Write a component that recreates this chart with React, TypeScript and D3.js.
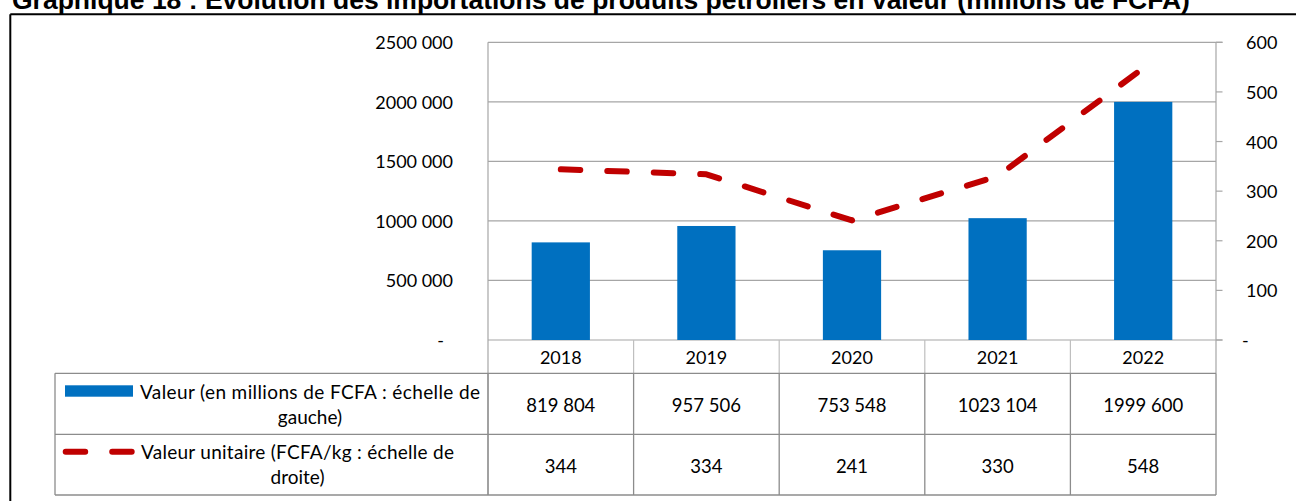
import React from "react";
import * as d3 from "d3";

const title =
  "Graphique 18 : Evolution des importations de produits pétroliers en valeur (millions de FCFA)";
const years = ["2018", "2019", "2020", "2021", "2022"];
const valeur = [819804, 957506, 753548, 1023104, 1999600];
const unitaire = [344, 334, 241, 330, 548];
const leftTicks = [0, 500000, 1000000, 1500000, 2000000, 2500000];
const rightTicks = [0, 100, 200, 300, 400, 500, 600];
const legendValeur = ["Valeur (en millions de FCFA : échelle de", "gauche)"];
const legendUnitaire = ["Valeur unitaire (FCFA/kg : échelle de", "droite)"];

const W = 1296;
const H = 501;
const plotL = 488;
const plotR = 1216;
const plotT = 42.3;
const plotB = 340;
const rowYear = 373.3;
const row1 = 434.3;
const row2 = 495;
const legendL = 55;

const BLUE = "#0070C0";
const RED = "#C00000";
const GRID = "#A6A6A6";
const TABLE = "#8C8C8C";
const FONT = "Lato, 'Open Sans', sans-serif";

function fmt(v: number): string {
  if (v === 0) return "-";
  if (v >= 1000) return `${Math.floor(v / 1000)} ${String(v % 1000).padStart(3, "0")}`;
  return String(v);
}

export default function App() {
  const x = d3.scaleBand<string>().domain(years).range([plotL, plotR]).padding(0);
  const bw = x.bandwidth();
  const yL = d3.scaleLinear().domain([0, 2500000]).range([plotB, plotT]);
  const yR = d3.scaleLinear().domain([0, 600]).range([plotB, plotT]);
  const cx = (y: string) => (x(y) as number) + bw / 2;
  const barW = bw * 0.4;

  const linePath =
    d3
      .line<number>()
      .x((_, i) => cx(years[i]))
      .y((d) => yR(d))(unitaire) || "";

  const dash = "19.5 27";

  return (
    <svg
      width={W}
      height={H}
      style={{ position: "absolute", left: 0, top: 0, display: "block", background: "#fff" }}
    >
      <rect x={0} y={0} width={W} height={H} fill="#fff" />
      {/* Title */}
      <text
        x={12}
        y={8.5}
        fontFamily="'Liberation Sans', Arial, sans-serif"
        fontWeight="bold"
        fontSize={26.5}
        fill="#000"
      >
        {title}
      </text>
      {/* Frame */}
      <line x1={10.3} y1={14.3} x2={W + 5} y2={14.3} stroke="#000" strokeWidth={2} />
      <line x1={10.3} y1={14.3} x2={10.3} y2={H + 5} stroke="#000" strokeWidth={2} />

      {/* Gridlines */}
      {leftTicks.map((t) => (
        <line
          key={"g" + t}
          x1={plotL}
          x2={t === 2500000 || t === 0 ? plotR + 6.5 : plotR}
          y1={yL(t)}
          y2={yL(t)}
          stroke={GRID}
          strokeWidth={1.2}
        />
      ))}
      {/* Right axis ticks */}
      {rightTicks.map((t) => (
        <line
          key={"rt" + t}
          x1={plotR}
          x2={plotR + 6.5}
          y1={yR(t)}
          y2={yR(t)}
          stroke={GRID}
          strokeWidth={1.2}
        />
      ))}
      {/* Left axis labels */}
      {leftTicks.map((t) => (
        <text
          key={"ll" + t}
          x={t === 0 ? 444 : 453}
          y={yL(t)}
          textAnchor="end"
          dominantBaseline="central"
          fontFamily={FONT}
          fontSize={18}
          fill="#000"
        >
          {fmt(t)}
        </text>
      ))}
      {/* Right axis labels */}
      {rightTicks.map((t) => (
        <text
          key={"rl" + t}
          x={t === 0 ? 1242 : 1246}
          y={yR(t)}
          textAnchor="start"
          dominantBaseline="central"
          fontFamily={FONT}
          fontSize={18}
          fill="#000"
        >
          {fmt(t)}
        </text>
      ))}

      {/* Bars */}
      {valeur.map((v, i) => (
        <rect
          key={"b" + i}
          x={cx(years[i]) - barW / 2}
          y={yL(v)}
          width={barW}
          height={yL(0) - yL(v)}
          fill={BLUE}
        />
      ))}

      {/* Axis / table lines */}
      <line x1={plotL} x2={plotL} y1={plotT} y2={row2} stroke={GRID} strokeWidth={1.2} />
      <line x1={plotR} x2={plotR} y1={plotT} y2={rowYear} stroke={GRID} strokeWidth={1.2} />
      {years.slice(1).map((y) => (
        <line
          key={"vy" + y}
          x1={x(y) as number}
          x2={x(y) as number}
          y1={plotB}
          y2={rowYear}
          stroke="#BFBFBF"
          strokeWidth={1.2}
        />
      ))}
      {years.slice(1).map((y) => (
        <line
          key={"vd" + y}
          x1={x(y) as number}
          x2={x(y) as number}
          y1={rowYear}
          y2={row2}
          stroke={TABLE}
          strokeWidth={1.3}
        />
      ))}
      <line x1={plotR} x2={plotR} y1={rowYear} y2={row2} stroke={TABLE} strokeWidth={1.3} />
      <line x1={legendL} x2={plotR} y1={rowYear} y2={rowYear} stroke={TABLE} strokeWidth={1.3} />
      <line x1={legendL} x2={plotR} y1={row1} y2={row1} stroke={TABLE} strokeWidth={1.3} />
      <line x1={legendL} x2={plotR} y1={row2} y2={row2} stroke={TABLE} strokeWidth={1.3} />
      <line x1={legendL} x2={legendL} y1={rowYear} y2={row2} stroke={TABLE} strokeWidth={1.3} />
      <line x1={plotL} x2={plotL} y1={rowYear} y2={row2} stroke={TABLE} strokeWidth={1.3} />

      {/* Line series */}
      <path
        d={linePath}
        fill="none"
        stroke={RED}
        strokeWidth={6}
        strokeDasharray={dash}
        strokeLinecap="round"
        strokeLinejoin="round"
      />

      {/* Table text: years */}
      {years.map((y) => (
        <text
          key={"yt" + y}
          x={cx(y)}
          y={(plotB + rowYear) / 2 + 0.5}
          textAnchor="middle"
          dominantBaseline="central"
          fontFamily={FONT}
          fontSize={18}
          fill="#000"
        >
          {y}
        </text>
      ))}
      {valeur.map((v, i) => (
        <text
          key={"vt" + i}
          x={cx(years[i])}
          y={(rowYear + row1) / 2 + 1}
          textAnchor="middle"
          dominantBaseline="central"
          fontFamily={FONT}
          fontSize={18.5}
          fill="#000"
        >
          {fmt(v)}
        </text>
      ))}
      {unitaire.map((v, i) => (
        <text
          key={"ut" + i}
          x={cx(years[i])}
          y={(row1 + row2) / 2 + 1}
          textAnchor="middle"
          dominantBaseline="central"
          fontFamily={FONT}
          fontSize={18.5}
          fill="#000"
        >
          {fmt(v)}
        </text>
      ))}

      {/* Legend keys */}
      <rect x={65} y={385.3} width={68} height={11.4} fill={BLUE} />
      <line
        x1={65.7}
        x2={132.3}
        y1={451.7}
        y2={451.7}
        stroke={RED}
        strokeWidth={6}
        strokeDasharray={dash}
        strokeLinecap="round"
      />
      {legendValeur.map((t, i) => (
        <text
          key={"lv" + i}
          x={310}
          y={391.7 + i * 25}
          textAnchor="middle"
          dominantBaseline="central"
          fontFamily={FONT}
          fontSize={19}
          textLength={i === 0 ? 340 : undefined}
          lengthAdjust="spacing"
          fill="#000"
        >
          {t}
        </text>
      ))}
      {legendUnitaire.map((t, i) => (
        <text
          key={"lu" + i}
          x={297.5}
          y={451.7 + i * 25}
          textAnchor="middle"
          dominantBaseline="central"
          fontFamily={FONT}
          fontSize={19}
          textLength={i === 0 ? 313 : undefined}
          lengthAdjust="spacing"
          fill="#000"
        >
          {t}
        </text>
      ))}
    </svg>
  );
}
